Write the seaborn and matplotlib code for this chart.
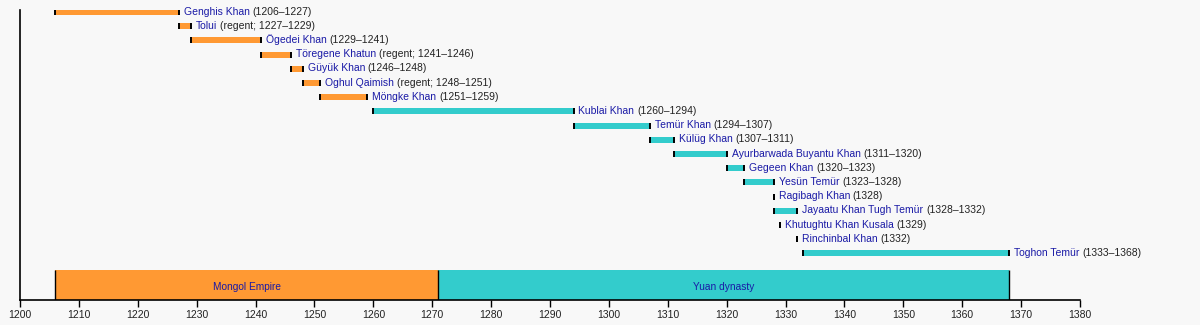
import numpy as np
import pandas as pd
import matplotlib
matplotlib.use("Agg")
import matplotlib.pyplot as plt
import seaborn as sns

# ---- data ----
rulers = ["Genghis Khan", "Tolui", "Ögedei Khan", "Töregene Khatun", "Güyük Khan",
          "Oghul Qaimish", "Möngke Khan", "Kublai Khan", "Temür Khan", "Külüg Khan",
          "Ayurbarwada Buyantu Khan", "Gegeen Khan", "Yesün Temür", "Ragibagh Khan",
          "Jayaatu Khan Tugh Temür", "Khutughtu Khan Kusala", "Rinchinbal Khan",
          "Toghon Temür"]
reign_start = [1206, 1227, 1229, 1241, 1246, 1248, 1251, 1260, 1294, 1307,
               1311, 1320, 1323, 1328, 1328, 1329, 1332, 1333]
reign_end = [1227, 1229, 1241, 1246, 1248, 1251, 1259, 1294, 1307, 1311,
             1320, 1323, 1328, 1328, 1332, 1329, 1332, 1368]
notes = ["(1206–1227)", "(regent; 1227–1229)", "(1229–1241)", "(regent; 1241–1246)",
         "(1246–1248)", "(regent; 1248–1251)", "(1251–1259)", "(1260–1294)",
         "(1294–1307)", "(1307–1311)", "(1311–1320)", "(1320–1323)", "(1323–1328)",
         "(1328)", "(1328–1332)", "(1329)", "(1332)", "(1333–1368)"]
ruler_period = ["Mongol Empire"] * 7 + ["Yuan dynasty"] * 11

periods = ["Mongol Empire", "Yuan dynasty"]
period_start = [1206, 1271]
period_end = [1271, 1368]

year_ticks = list(range(1200, 1381, 10))

# ---- style ----
sns.set_style("ticks")
plt.rcParams["font.family"] = ["Liberation Sans", "DejaVu Sans"]
BG = "#f8f8f8"
palette = {"Mongol Empire": "#ff9933", "Yuan dynasty": "#33cccc"}
NAME_COLOR = "#1a1aa6"
DATE_COLOR = "#222222"
FS = 7.45

df = pd.DataFrame({"ruler": rulers, "start": reign_start, "end": reign_end,
                   "note": notes, "period": ruler_period})
df["row"] = np.arange(len(df))
df["dur"] = df["end"] - df["start"]

fig = plt.figure(figsize=(12, 3.25), dpi=100, facecolor=BG)
ax = fig.add_axes([20 / 1200, 25 / 325, 1060 / 1200, 290 / 325])
ax.set_facecolor(BG)

bar_h = 0.42
ax.barh(df["row"], df["dur"], left=df["start"], height=bar_h,
        color=[palette[p] for p in df["period"]], edgecolor="none", zorder=2)
ax.vlines(df["start"], df["row"] - bar_h / 2, df["row"] + bar_h / 2,
          color="black", lw=1.4, zorder=3)
ax.vlines(df["end"], df["row"] - bar_h / 2, df["row"] + bar_h / 2,
          color="black", lw=1.4, zorder=3)

for _, r in df.iterrows():
    t = ax.annotate(r["ruler"], xy=(r["end"], r["row"]), xytext=(3.5, 0.3),
                    textcoords="offset points", ha="left", va="center",
                    fontsize=FS, color=NAME_COLOR, zorder=4)
    ax.annotate(r["note"], xy=(1, 0.5), xycoords=t, xytext=(2.0, 0),
                textcoords="offset points", ha="left", va="center",
                fontsize=FS, color=DATE_COLOR, zorder=4)

# period bars
p_row = 19.23
p_h = 2.11
pdf = pd.DataFrame({"period": periods, "start": period_start, "end": period_end})
ax.barh([p_row] * len(pdf), pdf["end"] - pdf["start"], left=pdf["start"], height=p_h,
        color=[palette[p] for p in pdf["period"]], edgecolor="none", zorder=2)
edges = sorted(set(period_start) | set(period_end))
ax.vlines(edges, p_row - p_h / 2, p_row + p_h / 2, color="black", lw=1.0, zorder=3)
for _, r in pdf.iterrows():
    ax.text((r["start"] + r["end"]) / 2, p_row + 0.1, r["period"], ha="center",
            va="center", fontsize=7.3, color=NAME_COLOR, zorder=4)

ax.set_xlim(1200, 1380)
ax.set_ylim(20.28, -0.14)
ax.set_xticks(year_ticks)
ax.set_xticklabels([str(y) for y in year_ticks], fontsize=7.5, color=DATE_COLOR)
ax.set_yticks([])
ax.tick_params(axis="x", length=5, width=1, color="black", pad=2.5)
sns.despine(ax=ax, top=True, right=True)
for s in ["left", "bottom"]:
    ax.spines[s].set_color("black")
    ax.spines[s].set_linewidth(1.2)
ax.set_xlabel("")
ax.set_ylabel("")

fig.savefig("out.png", dpi=100, facecolor=BG)
